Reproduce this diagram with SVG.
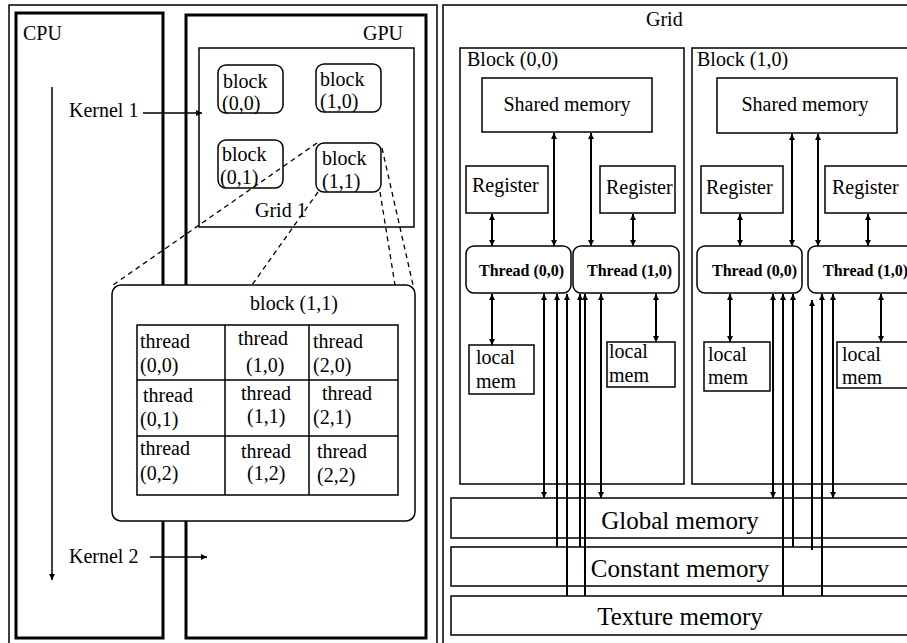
<svg xmlns="http://www.w3.org/2000/svg" width="907" height="643" viewBox="0 0 907 643">
<defs>
<marker id="ah" viewBox="0 0 10 10" refX="10" refY="5" markerWidth="6" markerHeight="6" markerUnits="userSpaceOnUse" orient="auto-start-reverse">
<path d="M0,0 L10,5 L0,10 z" fill="#000"/>
</marker>
<marker id="ah2" viewBox="0 0 10 10" refX="10" refY="5" markerWidth="9" markerHeight="7" markerUnits="userSpaceOnUse" orient="auto-start-reverse">
<path d="M0,0 L10,5 L0,10 L3,5 z" fill="#000"/>
</marker>
</defs>
<style>
text{font-family:"Liberation Serif","Times New Roman",serif;fill:#000}
.t20{font-size:20px}
.t25{font-size:25px}
.tb{font-size:16px;font-weight:bold}
.frame{fill:none;stroke:#000;stroke-width:1.5}
.thick{fill:none;stroke:#000;stroke-width:3}
.box{fill:#fff;stroke:#000;stroke-width:1.5}
.dash{fill:none;stroke:#000;stroke-width:1.3;stroke-dasharray:5,4}
.ar{stroke:#000;stroke-width:2;fill:none}
.ln{stroke:#000;stroke-width:1.5;fill:none}
</style>
<rect width="907" height="643" fill="#fff"/>

<g id="left-frame"><rect class="frame" x="9" y="5" width="428" height="645"/></g>
<g id="right-frame"><rect class="frame" x="443" y="5" width="480" height="645"/></g>

<g id="cpu"><rect class="thick" x="16" y="13" width="147" height="625"/><text class="t20" x="23" y="40">CPU</text></g>
<g id="gpu"><rect class="thick" x="186" y="15" width="240" height="623"/><text class="t20" x="363" y="40">GPU</text></g>

<g id="grid1"><rect class="box" x="199" y="48" width="215" height="179"/><text class="t20" x="255" y="217">Grid 1</text></g>
<g id="block00-s"><rect class="box" x="218" y="65" width="65" height="48" rx="8"/><text class="t20" x="223" y="88">block</text><text class="t20" x="222" y="110">(0,0)</text></g>
<g id="block10-s"><rect class="box" x="316" y="64" width="65" height="48" rx="8"/><text class="t20" x="320" y="86">block</text><text class="t20" x="320" y="108">(1,0)</text></g>
<g id="block01-s"><rect class="box" x="218" y="140" width="65" height="48" rx="8"/><text class="t20" x="222" y="161">block</text><text class="t20" x="220" y="184">(0,1)</text></g>
<g id="block11-s"><rect class="box" x="316" y="143" width="65" height="49" rx="8"/><text class="t20" x="322" y="165">block</text><text class="t20" x="322" y="188">(1,1)</text></g>

<g id="connectors-left">
<line class="ln" x1="52" y1="87" x2="52" y2="580" marker-end="url(#ah)"/>
<line class="ln" x1="143" y1="113" x2="202" y2="113" marker-end="url(#ah)"/>
<line class="ln" x1="150" y1="557" x2="207" y2="557" marker-end="url(#ah)"/>
<line class="dash" x1="317" y1="143" x2="113" y2="285"/>
<line class="dash" x1="318" y1="192" x2="252" y2="285"/>
<line class="dash" x1="380" y1="192" x2="395" y2="285"/>
<line class="dash" x1="382" y1="148" x2="413" y2="285"/>
</g>
<text class="t20" x="69" y="117">Kernel 1</text>
<text class="t20" x="69" y="563">Kernel 2</text>

<g id="block11-big">
<rect class="box" x="112" y="285" width="303" height="236" rx="9"/>
<text class="t20" x="294" y="310" text-anchor="middle">block (1,1)</text>
<rect class="frame" x="137" y="325" width="261" height="170"/>
<line class="ln" x1="225" y1="325" x2="225" y2="495"/>
<line class="ln" x1="309" y1="325" x2="309" y2="495"/>
<line class="ln" x1="137" y1="380" x2="398" y2="380"/>
<line class="ln" x1="137" y1="436" x2="398" y2="436"/>
<text class="t20" x="140" y="348">thread</text><text class="t20" x="140" y="372">(0,0)</text>
<text class="t20" x="238" y="345">thread</text><text class="t20" x="246" y="372">(1,0)</text>
<text class="t20" x="313" y="348">thread</text><text class="t20" x="313" y="372">(2,0)</text>
<text class="t20" x="143" y="402">thread</text><text class="t20" x="140" y="426">(0,1)</text>
<text class="t20" x="241" y="400">thread</text><text class="t20" x="247" y="423">(1,1)</text>
<text class="t20" x="322" y="400">thread</text><text class="t20" x="313" y="424">(2,1)</text>
<text class="t20" x="140" y="455">thread</text><text class="t20" x="140" y="480">(0,2)</text>
<text class="t20" x="241" y="458">thread</text><text class="t20" x="247" y="480">(1,2)</text>
<text class="t20" x="317" y="458">thread</text><text class="t20" x="317" y="482">(2,2)</text>
</g>

<text class="t20" x="646" y="26">Grid</text>

<g id="block00"><rect class="frame" x="460" y="48" width="224" height="436"/><text class="t20" x="467" y="66">Block (0,0)</text></g>
<g id="block10"><rect class="frame" x="692" y="48" width="230" height="436"/><text class="t20" x="697" y="66">Block (1,0)</text></g>

<g id="shared0"><rect class="frame" x="482" y="78" width="170" height="54"/><text class="t20" x="567" y="111" text-anchor="middle">Shared memory</text></g>
<g id="shared1"><rect class="frame" x="717" y="78" width="180" height="55"/><text class="t20" x="805" y="111" text-anchor="middle">Shared memory</text></g>

<g id="reg00"><rect class="frame" x="466" y="166" width="82" height="47"/><text class="t20" x="472" y="192">Register</text></g>
<g id="reg01"><rect class="frame" x="600" y="166" width="75" height="47"/><text class="t20" x="606" y="194">Register</text></g>
<g id="reg10"><rect class="frame" x="701" y="166" width="82" height="47"/><text class="t20" x="706" y="194">Register</text></g>
<g id="reg11"><rect class="frame" x="825" y="166" width="90" height="47"/><text class="t20" x="832" y="194">Register</text></g>

<g id="thr00"><rect class="frame" x="466" y="246" width="105" height="47" rx="8"/><text class="tb" x="479" y="276">Thread (0,0)</text></g>
<g id="thr01"><rect class="frame" x="573" y="246" width="106" height="47" rx="8"/><text class="tb" x="587" y="276">Thread (1,0)</text></g>
<g id="thr10"><rect class="frame" x="697" y="246" width="105" height="47" rx="8"/><text class="tb" x="712" y="276">Thread (0,0)</text></g>
<g id="thr11"><rect class="frame" x="808" y="246" width="110" height="47" rx="8"/><text class="tb" x="823" y="276">Thread (1,0)</text></g>

<g id="loc00"><rect class="frame" x="469" y="345" width="65" height="49"/><text class="t20" x="476" y="364">local</text><text class="t20" x="476" y="388">mem</text></g>
<g id="loc01"><rect class="frame" x="607" y="342" width="68" height="45"/><text class="t20" x="609" y="358">local</text><text class="t20" x="609" y="382">mem</text></g>
<g id="loc10"><rect class="frame" x="704" y="342" width="66" height="49"/><text class="t20" x="708" y="361">local</text><text class="t20" x="708" y="384">mem</text></g>
<g id="loc11"><rect class="frame" x="837" y="342" width="80" height="46"/><text class="t20" x="842" y="361">local</text><text class="t20" x="842" y="384">mem</text></g>

<g id="global"><rect class="frame" x="451" y="498" width="470" height="40"/><text class="t25" x="680" y="529" text-anchor="middle">Global memory</text></g>
<g id="constant"><rect class="frame" x="451" y="547" width="470" height="39"/><text class="t25" x="680" y="577" text-anchor="middle">Constant memory</text></g>
<g id="texture"><rect class="frame" x="451" y="596" width="470" height="39"/><text class="t25" x="680" y="625" text-anchor="middle">Texture memory</text></g>

<g id="connectors-right">
<line class="ar" x1="554" y1="133" x2="554" y2="246" marker-start="url(#ah)" marker-end="url(#ah)"/>
<line class="ar" x1="591" y1="133" x2="591" y2="246" marker-start="url(#ah)" marker-end="url(#ah)"/>
<line class="ar" x1="492" y1="214" x2="492" y2="246" marker-start="url(#ah)" marker-end="url(#ah)"/>
<line class="ar" x1="633" y1="214" x2="633" y2="246" marker-start="url(#ah)" marker-end="url(#ah)"/>
<line class="ar" x1="492" y1="294" x2="492" y2="345" marker-start="url(#ah)" marker-end="url(#ah)"/>
<line class="ar" x1="656" y1="294" x2="656" y2="342" marker-start="url(#ah)" marker-end="url(#ah)"/>
<line class="ar" x1="544" y1="294" x2="544" y2="498" marker-start="url(#ah)" marker-end="url(#ah)"/>
<line class="ar" x1="601" y1="294" x2="601" y2="498" marker-start="url(#ah)" marker-end="url(#ah)"/>
<line class="ar" x1="557" y1="547" x2="557" y2="294" marker-end="url(#ah)"/>
<line class="ar" x1="580" y1="547" x2="580" y2="294" marker-end="url(#ah)"/>
<line class="ar" x1="567" y1="596" x2="567" y2="294" marker-end="url(#ah)"/>
<line class="ar" x1="585" y1="596" x2="585" y2="294" marker-end="url(#ah)"/>

<line class="ar" x1="792" y1="134" x2="792" y2="246" marker-start="url(#ah)" marker-end="url(#ah)"/>
<line class="ar" x1="818" y1="134" x2="818" y2="246" marker-start="url(#ah)" marker-end="url(#ah)"/>
<line class="ar" x1="740" y1="214" x2="740" y2="246" marker-start="url(#ah)" marker-end="url(#ah)"/>
<line class="ar" x1="868" y1="214" x2="868" y2="246" marker-start="url(#ah)" marker-end="url(#ah)"/>
<line class="ar" x1="730" y1="294" x2="730" y2="342" marker-start="url(#ah)" marker-end="url(#ah)"/>
<line class="ar" x1="881" y1="294" x2="881" y2="342" marker-start="url(#ah)" marker-end="url(#ah)"/>
<line class="ar" x1="773" y1="294" x2="773" y2="498" marker-start="url(#ah)" marker-end="url(#ah)"/>
<line class="ar" x1="833" y1="294" x2="833" y2="498" marker-start="url(#ah)" marker-end="url(#ah)"/>
<line class="ar" x1="793" y1="547" x2="793" y2="294" marker-end="url(#ah)"/>
<line class="ar" x1="812" y1="550" x2="812" y2="300" marker-end="url(#ah)"/>
<line class="ar" x1="783" y1="596" x2="783" y2="294" marker-end="url(#ah)"/>
<line class="ar" x1="822" y1="596" x2="822" y2="294" marker-end="url(#ah)"/>
</g>
</svg>
